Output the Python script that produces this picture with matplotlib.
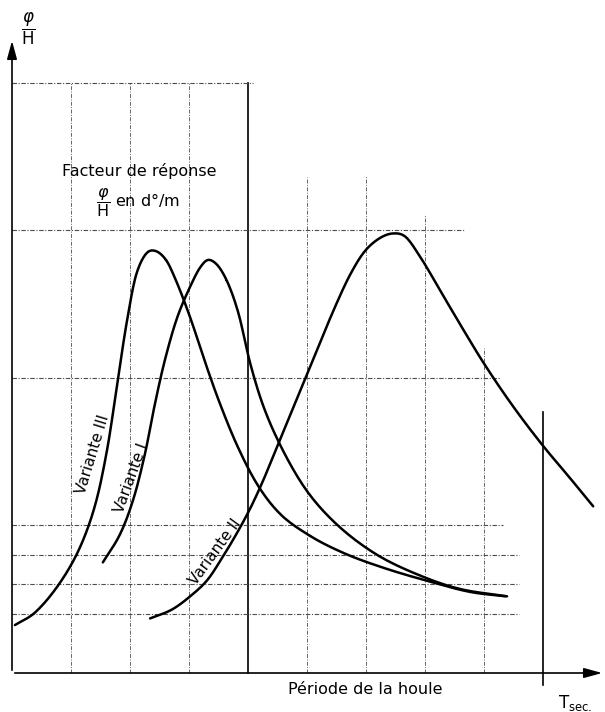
import numpy as np
import matplotlib
matplotlib.use('Agg')
import matplotlib.pyplot as plt

plt.rcParams['font.family'] = ['DejaVu Sans']
plt.rcParams['mathtext.fontset'] = 'dejavusans'

# grid (x in grid steps of period, y in response units)
grid_x = [1, 2, 3, 4, 5, 6, 7, 8, 9]
grid_x_top = [4.0, 4.0, 4.0, 4.0, 3.36, 3.37, 3.11, 2.2, 1.77]
grid_y = [4.0, 3.0, 2.0, 1.0, 0.8, 0.6, 0.4]
grid_y_right = [4.08, 7.68, 8.27, 8.32, 8.6, 8.6, 8.6]

# Variante III
v3_x = [0.05, 0.39, 0.81, 1.15, 1.41, 1.61, 1.78, 1.95, 2.12, 2.29, 2.44, 2.61, 2.78,
        3.02, 3.27, 3.53, 3.83, 4.17, 4.54, 5.05, 5.64, 6.32, 7.08, 7.76, 8.36]
v3_y = [0.325, 0.41, 0.61, 0.85, 1.14, 1.51, 1.95, 2.39, 2.72, 2.85, 2.86, 2.80, 2.66,
        2.41, 2.11, 1.82, 1.53, 1.27, 1.08, 0.93, 0.81, 0.71, 0.62, 0.55, 0.52]
# Variante I
v1_x = [1.54, 1.83, 2.05, 2.25, 2.42, 2.59, 2.80, 3.02, 3.19, 3.32, 3.47, 3.64, 3.83,
        4.03, 4.25, 4.54, 4.97, 5.47, 6.15, 6.92, 7.59, 8.39]
v1_y = [0.75, 0.94, 1.17, 1.48, 1.82, 2.12, 2.41, 2.62, 2.75, 2.80, 2.77, 2.66, 2.45,
        2.11, 1.82, 1.55, 1.25, 1.02, 0.81, 0.66, 0.57, 0.52]
# Variante II
v2_x = [2.34, 2.71, 3.02, 3.31, 3.56, 3.80, 4.03, 4.24, 4.54, 4.83, 5.14, 5.44, 5.73,
        5.98, 6.24, 6.46, 6.66, 6.92, 7.29, 7.63, 7.98, 8.47, 8.98, 9.46, 9.85]
v2_y = [0.37, 0.43, 0.52, 0.63, 0.78, 0.94, 1.11, 1.29, 1.58, 1.86, 2.16, 2.45, 2.70,
        2.86, 2.95, 2.98, 2.96, 2.82, 2.57, 2.34, 2.11, 1.82, 1.55, 1.32, 1.13]


def smooth(xs, ys, n=12):
    # centripetal catmull-rom through the read points, just for drawing
    p = np.column_stack([xs, ys]).astype(float)
    p = np.vstack([2*p[0]-p[1], p, 2*p[-1]-p[-2]])
    out = []
    for i in range(1, len(p)-2):
        p0, p1, p2, p3 = p[i-1], p[i], p[i+1], p[i+2]
        t0 = 0
        t1 = t0 + np.linalg.norm(p1-p0)**0.5
        t2 = t1 + np.linalg.norm(p2-p1)**0.5
        t3 = t2 + np.linalg.norm(p3-p2)**0.5
        t = np.linspace(t1, t2, n)[:, None]
        a1 = (t1-t)/(t1-t0)*p0 + (t-t0)/(t1-t0)*p1
        a2 = (t2-t)/(t2-t1)*p1 + (t-t1)/(t2-t1)*p2
        a3 = (t3-t)/(t3-t2)*p2 + (t-t2)/(t3-t2)*p3
        b1 = (t2-t)/(t2-t0)*a1 + (t-t0)/(t2-t0)*a2
        b2 = (t3-t)/(t3-t1)*a2 + (t-t1)/(t3-t1)*a3
        out.append((t2-t)/(t2-t1)*b1 + (t-t1)/(t2-t1)*b2)
    c = np.vstack(out)
    return c[:, 0], c[:, 1]


W, H = 605, 712
fig = plt.figure(figsize=(W/100, H/100), dpi=100)
ax = fig.add_axes([12/W, (H-673)/H, (605-12)/W, (673-38)/H])
ax.set_xlim(0, 10.05)
ax.set_ylim(0, 4.305)
ax.axis('off')

dash = (0, (4, 1.5, 1, 1.5))
for x, top in zip(grid_x, grid_x_top):
    if x in (4, 9):
        ax.plot([x, x], [-0.08 if x == 9 else 0, top], color='black', lw=1.2, clip_on=False)
    else:
        ax.plot([x, x], [0, top], color='0.4', lw=0.7, ls=dash)
for y, right in zip(grid_y, grid_y_right):
    ax.plot([0, right], [y, y], color='0.3', lw=0.8, ls=dash)

# axes with arrows
ax.annotate('', xy=(10.05, 0), xytext=(0, 0),
            arrowprops=dict(arrowstyle='-|>,head_length=1.1,head_width=0.3', color='black', lw=1.2),
            annotation_clip=False)
ax.annotate('', xy=(0, 4.305), xytext=(0, 0),
            arrowprops=dict(arrowstyle='-|>,head_length=1.1,head_width=0.3', color='black', lw=1.2),
            annotation_clip=False)

# curves
for xs, ys in [(v3_x, v3_y), (v1_x, v1_y), (v2_x, v2_y)]:
    sx, sy = smooth(xs, ys)
    ax.plot(sx, sy, color='black', lw=1.8, solid_capstyle='round')

ax.text(1.37, 1.48, 'Variante III', rotation=73, ha='center', va='center', fontsize=11)
ax.text(2.02, 1.32, 'Variante I', rotation=70, ha='center', va='center', fontsize=11)
ax.text(3.44, 0.82, 'Variante II', rotation=54, ha='center', va='center', fontsize=11)

ax.text(2.15, 3.40, 'Facteur de réponse', ha='center', va='center', fontsize=11.5)
ax.text(2.13, 3.19, r'$\dfrac{\varphi}{\mathrm{H}}$ en d°/m', ha='center', va='center', fontsize=11.5)

ax.text(0.27, 4.37, r'$\dfrac{\varphi}{\mathrm{H}}$', ha='center', va='center', fontsize=12, clip_on=False)
ax.text(5.98, -0.115, 'Période de la houle', ha='center', va='center', fontsize=11.5)
ax.text(9.26, -0.20, r'T$_{\mathrm{sec.}}$', ha='left', va='center', fontsize=12)

fig.savefig('out.png', dpi=100)
